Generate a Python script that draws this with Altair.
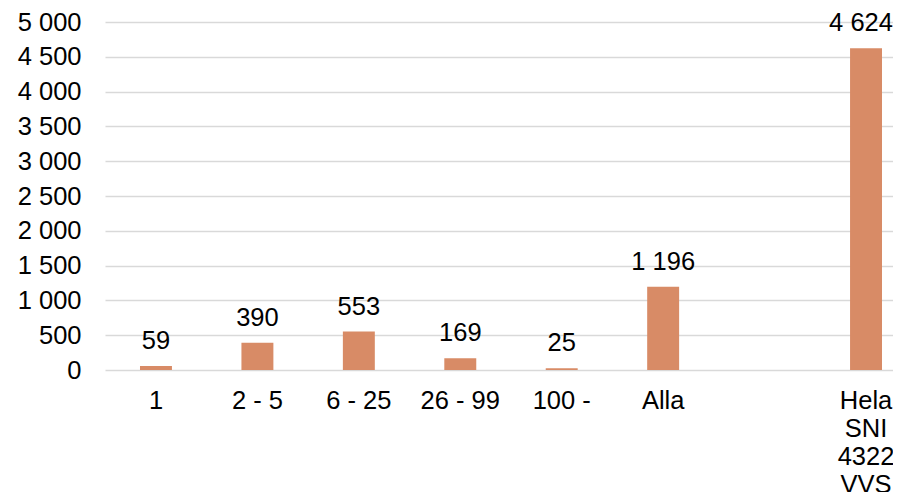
import altair as alt
import pandas as pd

categories = ["1", "2 - 5", "6 - 25", "26 - 99", "100 -", "Alla", " ", "Hela SNI 4322 VVS"]
bar_categories = ["1", "2 - 5", "6 - 25", "26 - 99", "100 -", "Alla", "Hela SNI 4322 VVS"]
values = [59, 390, 553, 169, 25, 1196, 4624]
y_ticks = [0, 500, 1000, 1500, 2000, 2500, 3000, 3500, 4000, 4500, 5000]

df = pd.DataFrame({"cat": bar_categories, "v": values})

FONT = "Liberation Sans"
FS = 25.5
LAST = "Hela SNI 4322 VVS"

x = alt.X(
    "cat:N",
    sort=categories,
    scale=alt.Scale(domain=categories, range=[0, 812], paddingInner=0.685, paddingOuter=0.345),
    axis=alt.Axis(
        title=None,
        labelAngle=0,
        labelFont=FONT,
        labelFontSize=FS,
        labelColor="#000000",
        labelPadding=18,
        labelLineHeight=28,
        labelExpr=f"datum.label == '{LAST}' ? split(datum.label, ' ') : datum.label",
        domain=False,
        ticks=False,
        grid=False,
    ),
)

y = alt.Y(
    "v:Q",
    scale=alt.Scale(domain=[0, 5000], nice=False),
    axis=alt.Axis(
        title=None,
        values=y_ticks,
        labelFont=FONT,
        labelFontSize=FS,
        labelColor="#000000",
        labelPadding=24,
        labelExpr="replace(format(datum.value, ','), ',', ' ')",
        domain=False,
        ticks=False,
        grid=True,
        gridColor="#D9D9D9",
        gridWidth=1.5,
    ),
)

bars = alt.Chart(df).mark_bar(color="#D88B66").encode(x=x, y=y)

base_text = alt.Chart(df).transform_calculate(lbl="replace(format(datum.v, ','), ',', ' ')")

labels = (
    base_text.transform_filter(f"datum.cat != '{LAST}'")
    .mark_text(font=FONT, fontSize=FS, color="#000000", baseline="alphabetic", dy=-17)
    .encode(x=x, y=y, text="lbl:N")
)

labels_last = (
    base_text.transform_filter(f"datum.cat == '{LAST}'")
    .mark_text(font=FONT, fontSize=FS, color="#000000", baseline="alphabetic", dy=-17, dx=-5)
    .encode(x=x, y=y, text="lbl:N")
)

chart = (
    alt.layer(bars, labels, labels_last)
    .properties(
        width=788,
        height=348,
        padding={"left": 97, "top": 14, "right": 0, "bottom": 122},
        autosize=alt.AutoSizeParams(type="none"),
    )
    .configure_view(stroke=None)
)

chart.save("out.html", embed_options={"renderer": "svg", "actions": False})
